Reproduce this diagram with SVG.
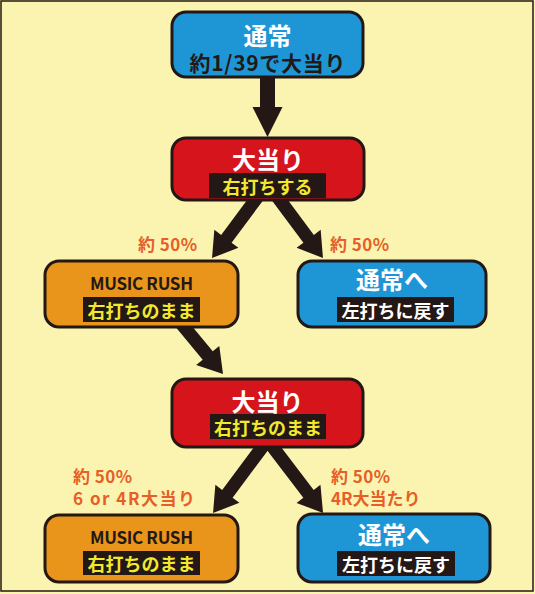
<svg xmlns="http://www.w3.org/2000/svg" width="535" height="594" viewBox="0 0 535 594">
<style>
  text { font-family: "Noto Sans CJK JP", "Noto Sans", sans-serif; font-weight: bold; dominant-baseline: central; }
  .node { stroke: #231815; stroke-width: 3; }
  .blue { fill: #1e96d6; }
  .red { fill: #d5141c; }
  .orange { fill: #e9941a; }
  .box { fill: #231815; }
  .title { fill: #ffffff; font-size: 24px; text-anchor: middle; }
  .sub { fill: #231815; font-size: 21px; text-anchor: middle; }
  .ylw { fill: #f2e92c; font-size: 18px; text-anchor: middle; }
  .wht { fill: #ffffff; font-size: 18px; text-anchor: middle; }
  .mr { fill: #231815; font-size: 17px; text-anchor: middle; }
  .lbl { fill: #e65f28; font-size: 17px; }
  .arrow { fill: #231815; }
</style>
<rect x="0" y="0" width="535" height="594" fill="#faf4b0"/>
<rect x="1" y="1" width="532" height="590" fill="none" stroke="#231815" stroke-width="1.5"/>

<g id="connectors">
  <path class="arrow" transform="translate(267.5,70) rotate(90)" d="M0,-7.5 H37 V-15 L67,0 L37,15 V7.5 H0 Z"/>
  <path class="arrow" transform="translate(259,195) rotate(126.7)" d="M0,-6.5 H54.6 V-15 L78.6,0 L54.6,15 V6.5 H0 Z"/>
  <path class="arrow" transform="translate(276,195) rotate(53.3)" d="M0,-6.5 H54.6 V-15 L78.6,0 L54.6,15 V6.5 H0 Z"/>
  <path class="arrow" transform="translate(180,322) rotate(50.4)" d="M0,-6.5 H43.5 V-15 L67.5,0 L43.5,15 V6.5 H0 Z"/>
  <path class="arrow" transform="translate(266,442) rotate(126.7)" d="M0,-6.5 H64.6 V-15 L88.6,0 L64.6,15 V6.5 H0 Z"/>
  <path class="arrow" transform="translate(269,442) rotate(52.7)" d="M0,-6.5 H65.2 V-15 L89.2,0 L65.2,15 V6.5 H0 Z"/>
</g>

<g id="node-normal">
  <rect class="node blue" x="172" y="12" width="191" height="65" rx="14"/>
  <text class="title" x="267.5" y="34">通常</text>
  <text class="sub" x="267.5" y="62" textLength="156" lengthAdjust="spacing">約1/39で大当り</text>
</g>

<g id="node-jackpot1">
  <rect class="node red" x="172" y="138" width="192" height="62" rx="14"/>
  <text class="title" x="268" y="158">大当り</text>
  <rect class="box" x="209" y="173" width="117" height="25"/>
  <text class="ylw" x="267.5" y="185.5">右打ちする</text>
</g>

<text class="lbl" x="138" y="243" textLength="59" lengthAdjust="spacing">約 50%</text>
<text class="lbl" x="330" y="243" textLength="59" lengthAdjust="spacing">約 50%</text>

<g id="node-rush1">
  <rect class="node orange" x="45" y="261" width="193" height="66" rx="14"/>
  <text class="mr" x="141.5" y="282" textLength="103" lengthAdjust="spacing">MUSIC RUSH</text>
  <rect class="box" x="83" y="297" width="117" height="25"/>
  <text class="ylw" x="141.5" y="309.5">右打ちのまま</text>
</g>

<g id="node-back1">
  <rect class="node blue" x="298" y="261" width="188" height="66" rx="14"/>
  <text class="title" x="392" y="278">通常へ</text>
  <rect class="box" x="337" y="297" width="117" height="25"/>
  <text class="wht" x="395.5" y="309.5">左打ちに戻す</text>
</g>

<g id="node-jackpot2">
  <rect class="node red" x="172" y="379" width="191" height="68" rx="14"/>
  <text class="title" x="267.5" y="400">大当り</text>
  <rect class="box" x="210" y="414" width="116" height="25"/>
  <text class="ylw" x="268" y="426.5">右打ちのまま</text>
</g>

<text class="lbl" x="73" y="475" textLength="59" lengthAdjust="spacing">約 50%</text>
<text class="lbl" x="73" y="497" textLength="122" lengthAdjust="spacing">6 or 4R大当り</text>
<text class="lbl" x="331" y="475" textLength="59" lengthAdjust="spacing">約 50%</text>
<text class="lbl" x="331" y="497">4R大当たり</text>

<g id="node-rush2">
  <rect class="node orange" x="45" y="515" width="193" height="67" rx="14"/>
  <text class="mr" x="141.5" y="536" textLength="103" lengthAdjust="spacing">MUSIC RUSH</text>
  <rect class="box" x="83" y="551" width="117" height="24"/>
  <text class="ylw" x="141.5" y="563">右打ちのまま</text>
</g>

<g id="node-back2">
  <rect class="node blue" x="298" y="514" width="192" height="68" rx="14"/>
  <text class="title" x="394" y="533">通常へ</text>
  <rect class="box" x="337" y="551" width="118" height="25"/>
  <text class="wht" x="396" y="563.5">左打ちに戻す</text>
</g>
</svg>
